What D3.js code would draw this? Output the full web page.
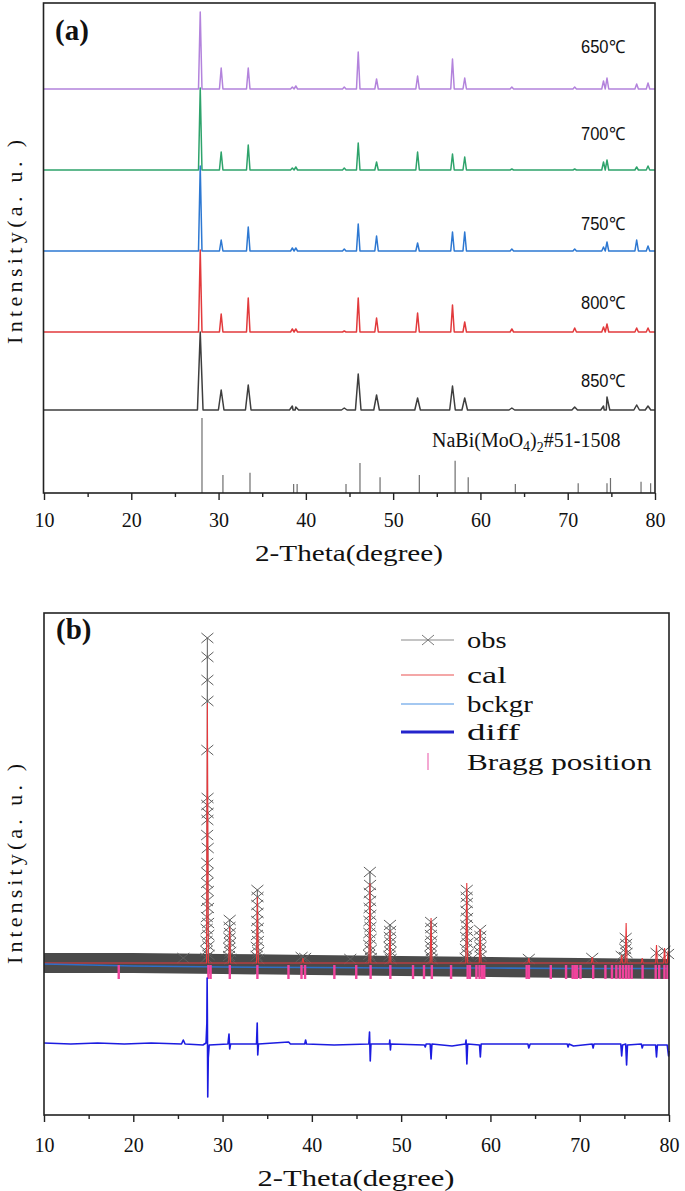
<!DOCTYPE html>
<html><head><meta charset="utf-8">
<script src="https://cdn.jsdelivr.net/npm/d3@7"></script>
<style>body{margin:0;background:#fff}svg{display:block}</style></head>
<body><svg id="c" width="685" height="1191"></svg>
<script>
// ---------------- DATA: panel (a) ----------------
const xTicks = [10, 20, 30, 40, 50, 60, 70, 80];
const xMinorTicks = [15, 25, 35, 45, 55, 65, 75];
const aSeries = ["650℃", "700℃", "750℃", "800℃", "850℃"];
const aOffsets = [404, 323, 242, 161, 83];           // vertical stacking offset (a.u.)
const aPeakPos = [27.9, 30.3, 33.4, 38.45, 38.85, 44.4, 46.0, 48.1, 52.8, 56.8, 58.2, 63.6, 70.8, 74.1, 74.5, 77.9, 79.2];
const h650 = [77, 21, 21, 2, 3, 2, 37, 10, 13, 30, 11, 2, 2, 8, 11, 5, 6];
const h700 = [82, 18, 25, 2, 3, 2, 27, 8, 18, 16, 13, 1, 1, 8, 10, 3, 4];
const h750 = [85, 11, 24, 3, 3, 2, 27, 15, 8, 19, 19, 2, 2, 4, 9, 11, 5];
const h800 = [82, 18, 34, 3, 3, 1, 34, 14, 19, 27, 10, 3, 4, 5, 8, 4, 4];
const h850 = [78, 20, 25, 4, 3, 2, 36, 15, 12, 24, 12, 2, 3, 4, 13, 5, 4];
const refPos = [28.1, 30.5, 33.6, 38.6, 39.0, 44.6, 46.2, 48.5, 53.0, 57.1, 58.6, 64.0, 71.2, 74.5, 74.9, 78.4, 79.5];
const refInt = [100, 24, 27, 12, 12, 12, 40, 21, 24, 43, 21, 12, 13, 13, 20, 15, 13];

// ---------------- DATA: panel (b) ----------------
const obsBand = [[10, 0], [20, 0], [30, -1], [40, -2], [50, -3], [60, -4], [70, -5], [80, -6]];
const obsPeaks = [
  [25.6, 5],
  [28.17, 5], [28.19, 12], [28.21, 22], [28.22, 34], [28.24, 46], [28.25, 62], [28.26, 80], [28.27, 128],
  [28.28, 158], [28.28, 100], [28.29, 213], [28.30, 325], [28.30, 283], [28.30, 143], [28.31, 306],
  [28.31, 262], [28.32, 165], [28.33, 150], [28.33, 90], [28.34, 115], [28.36, 72], [28.37, 55],
  [28.38, 40], [28.40, 28], [28.42, 17], [28.44, 8],
  [30.72, 7], [30.74, 15], [30.76, 25], [30.78, 36], [30.80, 43], [30.82, 30], [30.84, 20], [30.86, 11], [30.88, 4],
  [33.81, 7], [33.83, 16], [33.85, 28], [33.87, 42], [33.88, 58], [33.90, 73], [33.92, 66], [33.93, 50],
  [33.95, 35], [33.97, 22], [33.99, 11], [34.01, 4],
  [38.85, 6], [39.25, 5], [44.3, 4],
  [46.40, 8], [46.42, 18], [46.44, 30], [46.45, 42], [46.47, 55], [46.48, 70], [46.50, 91], [46.52, 78],
  [46.53, 62], [46.55, 48], [46.56, 36], [46.58, 24], [46.60, 13], [46.62, 5],
  [48.69, 7], [48.71, 16], [48.73, 26], [48.75, 38], [48.77, 32], [48.79, 21], [48.81, 11], [48.83, 4],
  [53.29, 7], [53.31, 17], [53.33, 28], [53.35, 41], [53.37, 35], [53.39, 22], [53.41, 12], [53.43, 4],
  [57.23, 5], [57.25, 14], [57.27, 26], [57.29, 38], [57.31, 52], [57.33, 66], [57.35, 73], [57.37, 60],
  [57.39, 45], [57.41, 32], [57.43, 20], [57.45, 9],
  [58.81, 11], [58.83, 21], [58.85, 33], [58.87, 27], [58.89, 16], [58.91, 7],
  [64.3, 4], [71.4, 5], [74.7, 7], [75.05, 6], [75.1, 14], [75.15, 25], [75.2, 19], [75.25, 10],
  [78.6, 10], [79.5, 12], [79.9, 9]
];
const calPeaks = [[28.3, 260], [30.8, 36], [33.9, 66], [39.0, 5], [46.5, 80], [48.75, 33], [53.35, 45],
  [57.35, 80], [58.85, 34], [64.3, 5], [71.4, 6], [74.7, 8], [75.2, 40], [77.0, 5], [78.6, 18], [79.5, 15], [79.9, 12]];
const bckgr = [[10, -1], [20, -3], [30, -4], [40, -4.5], [50, -5], [60, -5], [70, -5.5], [80, -5.5]];
const diff = [[10, -80], [13, -81], [16, -80], [19, -81], [22, -80], [25.4, -81], [25.6, -77], [25.8, -81],
  [27.8, -82], [28.15, -80], [28.24, -60], [28.27, -15], [28.3, -55], [28.34, -134], [28.4, -95], [28.5, -82],
  [30.6, -81], [30.72, -71], [30.8, -86], [30.9, -81], [33.8, -81], [33.88, -60], [33.94, -92], [34.02, -81],
  [37.4, -79], [37.6, -81], [39.2, -81], [39.3, -77], [39.4, -81], [42.5, -82], [46.38, -81], [46.46, -69],
  [46.54, -98], [46.62, -81], [48.68, -81], [48.73, -77], [48.8, -87], [48.86, -81], [52.6, -82], [52.7, -84],
  [52.8, -81], [53.25, -81], [53.35, -96], [53.45, -81], [55.7, -83], [57.2, -81], [57.27, -77], [57.36, -101],
  [57.45, -81], [58.78, -82], [58.87, -94], [58.96, -81], [64.2, -81], [64.3, -85], [64.45, -81], [68.6, -81],
  [68.7, -84], [68.8, -81], [69.3, -83], [71.4, -81], [71.5, -85], [71.6, -81], [74.6, -81], [74.7, -93],
  [74.8, -82], [75.15, -81], [75.25, -102], [75.35, -82], [76.9, -81], [77.0, -85], [77.1, -82], [78.5, -82],
  [78.6, -94], [78.7, -82], [79.8, -82], [79.95, -93], [80, -88]];
const bragg = [18.37, 28.41, 28.66, 30.81, 33.90, 37.38, 38.84, 39.24, 42.52, 44.97, 46.58, 48.79, 51.33, 52.56,
  53.44, 55.59, 57.45, 57.70, 58.43, 58.78, 59.07, 59.31, 64.06, 64.31, 66.76, 68.47, 69.21, 69.45, 69.70, 70.09,
  71.51, 72.88, 73.61, 74.10, 74.50, 74.84, 75.18, 75.48, 75.82, 77.04, 78.51, 78.90, 79.49, 79.83];
const legendItems = ["obs", "cal", "bckgr", "diff", "Bragg position"];

// ---------------- DRAWING ----------------
const svg = d3.select("#c");
const serif = "'Liberation Serif','Times New Roman',serif";
const colorsA = ["#b383dc", "#2ea36b", "#2d78d2", "#e23a3c", "#3e3e3e"];
const heightsA = [h650, h700, h750, h800, h850];

const xA = d3.scaleLinear().domain([10, 80]).range([44, 655]);
const yA = d3.scaleLinear().domain([0, 490]).range([493, 3]);
const yRef = d3.scaleLinear().domain([0, 100]).range([493, 418]);
const xB = d3.scaleLinear().domain([10, 80]).range([44, 669]);
const yB = d3.scaleLinear().domain([-152, 350]).range([1115, 613]);

function peakProfile(pos, hts, w) {
  const pts = [[10, 0]];
  pos.forEach((p, i) => { pts.push([p - w, 0], [p, hts[i]], [p + w, 0]); });
  pts.push([80, 0]);
  return pts.sort((a, b) => a[0] - b[0]);
}

// ----- panel (a)
const gA = svg.append("g");
gA.append("g").selectAll("line").data(refPos).join("line")
  .attr("x1", d => xA(d)).attr("x2", d => xA(d))
  .attr("y1", yRef(0)).attr("y2", (d, i) => yRef(refInt[i]))
  .attr("stroke", "#6e6e6e").attr("stroke-width", 1.2);

aSeries.forEach((name, i) => {
  const w = i === 4 ? 0.32 : 0.2;
  const pts = peakProfile(aPeakPos, heightsA[i], w);
  const line = d3.line().x(d => xA(d[0])).y(d => yA(d[1] + aOffsets[i]));
  gA.append("path").attr("d", line(pts)).attr("fill", "none")
    .attr("stroke", colorsA[i]).attr("stroke-width", 1.5).attr("stroke-linejoin", "round");
});
const labelRise = [42, 36, 27, 29, 29];
aSeries.forEach((name, i) => {
  gA.append("text").attr("x", 603).attr("y", yA(aOffsets[i] + labelRise[i]))
    .attr("text-anchor", "middle").attr("dominant-baseline", "central")
    .attr("font-family", "'Liberation Sans Narrow','Liberation Sans',Arial,sans-serif")
    .attr("font-size", 18).attr("textLength", 44).attr("lengthAdjust", "spacingAndGlyphs")
    .attr("fill", "#111").text(name);
});
const refLabel = gA.append("text").attr("x", 432).attr("y", 447)
  .attr("font-family", serif).attr("font-size", 20).attr("fill", "#111");
refLabel.append("tspan").text("NaBi(MoO");
refLabel.append("tspan").attr("font-size", 14).attr("dy", 4).text("4");
refLabel.append("tspan").attr("dy", -4).text(")");
refLabel.append("tspan").attr("font-size", 14).attr("dy", 5).text("2");
refLabel.append("tspan").attr("dy", -5).text("#51-1508");

gA.append("rect").attr("x", 43.5).attr("y", 3).attr("width", 655 - 43.5).attr("height", 490)
  .attr("fill", "none").attr("stroke", "#222").attr("stroke-width", 1.6);
gA.append("text").attr("x", 55).attr("y", 40).attr("font-family", serif).attr("font-weight", "bold")
  .attr("font-size", 29).attr("fill", "#111").text("(a)");

function drawAxis(g, xs, y0, labelY) {
  const ax = g.append("g").attr("transform", `translate(0,${y0})`)
    .call(d3.axisBottom(xs).tickValues(xTicks).tickSize(7).tickFormat(d3.format("d")));
  ax.select(".domain").remove();
  ax.selectAll(".tick line").attr("stroke", "#222").attr("stroke-width", 1.4);
  ax.selectAll(".tick text").attr("y", labelY).attr("dy", "0.35em")
    .attr("font-family", serif).attr("font-size", 20).attr("fill", "#111");
  const mn = g.append("g").attr("transform", `translate(0,${y0})`)
    .call(d3.axisBottom(xs).tickValues(xMinorTicks).tickSize(4).tickFormat(""));
  mn.select(".domain").remove();
  mn.selectAll(".tick line").attr("stroke", "#222").attr("stroke-width", 1.4);
}
drawAxis(gA, xA, 493, 27);
gA.append("text").attr("x", 349).attr("y", 553).attr("text-anchor", "middle").attr("dominant-baseline", "central")
  .attr("font-family", serif).attr("font-size", 23).attr("textLength", 188).attr("lengthAdjust", "spacingAndGlyphs")
  .attr("fill", "#111").text("2-Theta(degree)");
gA.append("text").attr("transform", "translate(14,242) rotate(-90)").attr("text-anchor", "middle")
  .attr("dominant-baseline", "central").attr("font-family", serif).attr("font-size", 22)
  .attr("textLength", 204).attr("lengthAdjust", "spacing").attr("fill", "#111").text("Intensity(a. u. )");

// ----- panel (b)
const gB = svg.append("g");
const lineB = d3.line().x(d => xB(d[0])).y(d => yB(d[1]));
// dense obs band (overlapping markers near baseline)
gB.append("path").attr("d", lineB(obsBand)).attr("fill", "none")
  .attr("stroke", "#4a4a4a").attr("stroke-width", 20);
// obs connecting line, drawn within each peak cluster
const clusters = [];
obsPeaks.slice().sort((a, b) => a[0] - b[0]).forEach(p => {
  const last = clusters[clusters.length - 1];
  if (last && p[0] - last[last.length - 1][0] < 0.3) last.push(p); else clusters.push([p]);
});
clusters.filter(c => c.length > 2).forEach(c => {
  gB.append("path").attr("d", lineB(c)).attr("fill", "none").attr("stroke", "#777").attr("stroke-width", 1);
});
const cross = "M-6,-5L6,5M-6,5L6,-5";
gB.append("g").selectAll("path").data(obsPeaks).join("path")
  .attr("transform", d => `translate(${xB(d[0])},${yB(d[1])})`).attr("d", cross)
  .attr("fill", "none").attr("stroke", "#5f5f5f").attr("stroke-width", 1);
// cal
const calPts = [[10, 0]];
calPeaks.forEach(p => calPts.push([p[0] - 0.1, 0], p, [p[0] + 0.1, 0]));
calPts.push([80, 0]);
calPts.sort((a, b) => a[0] - b[0]);
gB.append("path").attr("d", lineB(calPts)).attr("fill", "none").attr("stroke", "#e8383c").attr("stroke-width", 1.1);
// background
gB.append("path").attr("d", lineB(bckgr)).attr("fill", "none").attr("stroke", "#2f6fc8").attr("stroke-width", 1.6);
// Bragg positions
gB.append("g").selectAll("line").data(bragg).join("line")
  .attr("x1", d => xB(d)).attr("x2", d => xB(d)).attr("y1", yB(-2)).attr("y2", yB(-16))
  .attr("stroke", "#f0449c").attr("stroke-width", 2.4);
// diff
gB.append("path").attr("d", lineB(diff)).attr("fill", "none").attr("stroke", "#1c1ce0").attr("stroke-width", 1.6)
  .attr("stroke-linejoin", "round");

gB.append("rect").attr("x", 44).attr("y", 613).attr("width", 669 - 44).attr("height", 502)
  .attr("fill", "none").attr("stroke", "#222").attr("stroke-width", 1.6);
gB.append("text").attr("x", 56).attr("y", 639).attr("font-family", serif).attr("font-weight", "bold")
  .attr("font-size", 29).attr("fill", "#111").text("(b)");

// legend
const legY = [640, 675, 704, 732, 762];
const leg = gB.append("g");
legendItems.forEach((t, i) => {
  const y = legY[i];
  if (i === 0) {
    leg.append("line").attr("x1", 401).attr("x2", 454).attr("y1", y).attr("y2", y).attr("stroke", "#8a8a8a").attr("stroke-width", 1.2);
    leg.append("path").attr("transform", `translate(428,${y})`).attr("d", cross).attr("fill", "none").attr("stroke", "#7a7a7a");
  } else if (i === 1) {
    leg.append("line").attr("x1", 401).attr("x2", 454).attr("y1", y).attr("y2", y).attr("stroke", "#f08a8a").attr("stroke-width", 1.3);
  } else if (i === 2) {
    leg.append("line").attr("x1", 401).attr("x2", 454).attr("y1", y).attr("y2", y).attr("stroke", "#86b6ec").attr("stroke-width", 1.5);
  } else if (i === 3) {
    leg.append("line").attr("x1", 401).attr("x2", 454).attr("y1", y).attr("y2", y).attr("stroke", "#2424cc").attr("stroke-width", 3);
  } else {
    leg.append("line").attr("x1", 428).attr("x2", 428).attr("y1", y - 9).attr("y2", y + 8).attr("stroke", "#f08cc4").attr("stroke-width", 1.5);
  }
  leg.append("text").attr("x", 467).attr("y", y).attr("dominant-baseline", "central")
    .attr("font-family", serif).attr("font-size", 23).attr("textLength", t.length * 13.2)
    .attr("lengthAdjust", "spacingAndGlyphs").attr("fill", "#111").text(t);
});

drawAxis(gB, xB, 1115, 30);
gB.append("text").attr("x", 356).attr("y", 1178).attr("text-anchor", "middle").attr("dominant-baseline", "central")
  .attr("font-family", serif).attr("font-size", 24).attr("textLength", 197).attr("lengthAdjust", "spacingAndGlyphs")
  .attr("fill", "#111").text("2-Theta(degree)");
gB.append("text").attr("transform", "translate(14,864) rotate(-90)").attr("text-anchor", "middle")
  .attr("dominant-baseline", "central").attr("font-family", serif).attr("font-size", 22)
  .attr("textLength", 200).attr("lengthAdjust", "spacing").attr("fill", "#111").text("Intensity(a. u. )");
</script></body></html>
